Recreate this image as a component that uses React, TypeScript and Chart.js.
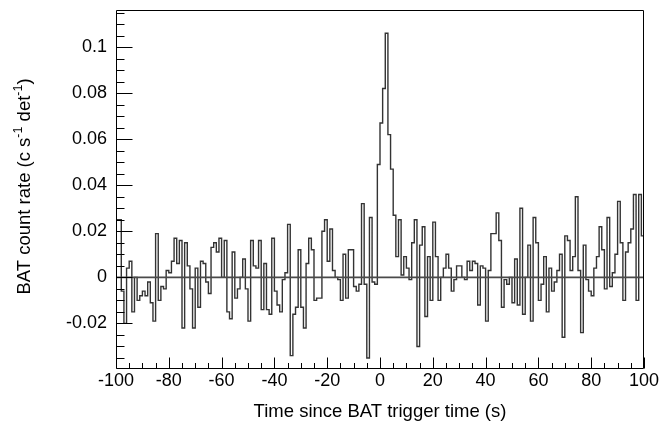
import React, { useEffect, useRef } from "react";
import { Chart, registerables } from "chart.js";

Chart.register(...registerables);

// Histogram: 1 s bins starting at -100 s
const binStart = -100;
const binWidth = 1;
const rates = [
  0.025, 0.025, -0.006, -0.02, 0.004, 0.007, -0.015, 0.0, -0.01, -0.008,
  -0.006, -0.008, -0.002, -0.011, -0.019, 0.019, -0.01, -0.004, -0.005, 0.003,
  0.002, 0.007, 0.017, 0.006, 0.016, -0.022, 0.015, 0.005, -0.005, -0.022,
  0.004, -0.013, 0.007, 0.006, -0.002, -0.007, 0.013, 0.015, 0.011, 0.017,
  0.0, 0.016, -0.015, -0.018, 0.011, -0.009, -0.005, 0.0, 0.008, -0.005,
  -0.019, 0.016, 0.005, 0.004, 0.016, -0.014, 0.006, -0.014, -0.016, 0.017,
  -0.006, -0.012, -0.015, -0.001, 0.002, 0.023, -0.034, -0.016, -0.013, 0.012,
  -0.013, -0.022, 0.006, 0.017, 0.012, -0.01, -0.009, -0.009, 0.02, 0.025,
  0.007, 0.021, 0.003, 0.0, -0.001, -0.01, 0.01, -0.009, 0.012, 0.012,
  -0.004, -0.006, -0.003, 0.032, -0.003, -0.035, 0.026, -0.002, -0.003, 0.049,
  0.067, 0.082, 0.106, 0.062, 0.047, 0.027, 0.009, 0.025, 0.001, 0.009,
  0.004, -0.001, 0.015, 0.025, -0.03, 0.014, 0.022, -0.017, 0.009, -0.01,
  0.024, 0.009, -0.01, 0.0, 0.004, 0.01, 0.004, -0.006, -0.001, 0.005,
  0.005, 0.0, -0.001, 0.007, 0.003, 0.007, 0.006, -0.012, 0.005, 0.004,
  -0.019, 0.003, 0.019, 0.019, 0.028, 0.016, -0.013, -0.001, -0.003, 0.0,
  -0.011, 0.008, -0.012, 0.03, -0.016, 0.0, 0.014, -0.019, 0.026, 0.015,
  -0.01, -0.003, 0.009, -0.015, 0.004, -0.006, -0.002, 0.003, 0.01, -0.026,
  0.018, 0.016, 0.003, 0.009, 0.035, 0.003, -0.024, 0.014, -0.001, -0.006,
  -0.008, 0.004, 0.009, 0.022, 0.012, -0.005, 0.026, -0.004, 0.002, 0.01,
  0.033, 0.015, -0.01, 0.011, 0.015, 0.021, 0.036, -0.01, 0.036, 0.018,
];

const xTickLabels = [-100, -80, -60, -40, -20, 0, 20, 40, 60, 80, 100];
const yTickLabels = [-0.02, 0, 0.02, 0.04, 0.06, 0.08, 0.1];
const xMinorStep = 5;
const xMajorEvery = 4;
const yMinorStep = 0.005;
const yMajorEvery = 4;

const xTitle = "Time since BAT trigger time (s)";
const yTitleParts: { text: string; sup?: boolean }[] = [
  { text: "BAT count rate (c s" },
  { text: "-1", sup: true },
  { text: " det" },
  { text: "-1", sup: true },
  { text: ")" },
];

const FONT = '"Liberation Sans", Arial, Helvetica, sans-serif';

const rootStyle = {
  id: "rootStyle",
  afterDatasetsDraw(chart: any) {
    const { ctx, chartArea: a, scales } = chart;
    const x = scales.x;
    const y = scales.y;
    ctx.save();
    ctx.strokeStyle = "#000";
    ctx.lineWidth = 1;
    const L = Math.round(a.left) + 0.5;
    const T = Math.round(a.top) + 0.5;
    const R = Math.round(a.right) - 0.5;
    const B = Math.round(a.bottom) - 0.5;
    ctx.beginPath();
    ctx.rect(L, T, R - L, B - T);
    ctx.stroke();
    // x inner ticks
    ctx.beginPath();
    const k0 = Math.ceil(x.min / xMinorStep - 1e-9);
    const k1 = Math.floor(x.max / xMinorStep + 1e-9);
    for (let k = k0; k <= k1; k++) {
      const px = Math.round(x.getPixelForValue(k * xMinorStep)) + 0.5;
      const len = k % xMajorEvery === 0 ? 11 : 5.5;
      ctx.moveTo(px, B);
      ctx.lineTo(px, B - len);
    }
    // y inner ticks
    const j0 = Math.ceil(y.min / yMinorStep - 1e-9);
    const j1 = Math.floor(y.max / yMinorStep + 1e-9);
    for (let j = j0; j <= j1; j++) {
      const py = Math.round(y.getPixelForValue(j * yMinorStep)) + 0.5;
      const len = j % yMajorEvery === 0 ? 16 : 8;
      ctx.moveTo(L, py);
      ctx.lineTo(L + len, py);
    }
    ctx.stroke();
    ctx.restore();
  },
  afterDraw(chart: any) {
    const { ctx, chartArea: a } = chart;
    ctx.save();
    ctx.fillStyle = "#000";
    // x title
    ctx.font = `18.5px ${FONT}`;
    ctx.textAlign = "center";
    ctx.textBaseline = "middle";
    ctx.fillText(xTitle, (a.left + a.right) / 2, 412);
    // y title with superscripts
    const mainFont = `18.5px ${FONT}`;
    const supFont = `12.5px ${FONT}`;
    let total = 0;
    for (const p of yTitleParts) {
      ctx.font = p.sup ? supFont : mainFont;
      total += ctx.measureText(p.text).width;
    }
    ctx.translate(23, (a.top + a.bottom) / 2 - 3);
    ctx.rotate(-Math.PI / 2);
    ctx.textAlign = "left";
    ctx.textBaseline = "alphabetic";
    let cx = -total / 2;
    for (const p of yTitleParts) {
      ctx.font = p.sup ? supFont : mainFont;
      ctx.fillText(p.text, cx, p.sup ? -1.5 : 6.5);
      cx += ctx.measureText(p.text).width;
    }
    ctx.restore();
  },
};

export default function App() {
  const ref = useRef<HTMLCanvasElement | null>(null);

  useEffect(() => {
    if (!ref.current) return;
    const hist = rates.map((v, i) => ({ x: binStart + i * binWidth, y: v }));
    hist.push({ x: binStart + rates.length * binWidth, y: rates[rates.length - 1] });
    const chart = new Chart(ref.current, {
      type: "line",
      data: {
        datasets: [
          {
            data: [
              { x: xTickLabels[0], y: 0 },
              { x: xTickLabels[xTickLabels.length - 1], y: 0 },
            ],
            borderColor: "#4a4a4a",
            borderWidth: 1.6,
            pointRadius: 0,
            order: 0,
          },
          {
            data: hist,
            stepped: "before",
            borderColor: "#333333",
            borderWidth: 1.4,
            pointRadius: 0,
            fill: false,
            order: 1,
          },
        ],
      },
      options: {
        animation: false,
        responsive: false,
        events: [],
        layout: { padding: { left: 0, top: 10, right: 15, bottom: 0 } },
        plugins: { legend: { display: false }, tooltip: { enabled: false }, title: { display: false } },
        scales: {
          x: {
            type: "linear",
            min: xTickLabels[0],
            max: xTickLabels[xTickLabels.length - 1],
            afterBuildTicks: (s: any) => {
              s.ticks = xTickLabels.map((v) => ({ value: v }));
            },
            afterFit: (s: any) => {
              s.height = 56;
              s.paddingLeft = 0;
              s.paddingRight = 0;
            },
            ticks: {
              autoSkip: false,
              maxRotation: 0,
              padding: 1,
              color: "#000",
              font: { family: FONT, size: 18 },
            },
            grid: { display: false, drawTicks: false },
            border: { display: false },
          },
          y: {
            type: "linear",
            min: -0.0398,
            max: 0.1161,
            afterBuildTicks: (s: any) => {
              s.ticks = yTickLabels.map((v) => ({ value: v }));
            },
            afterFit: (s: any) => {
              s.width = 116;
              s.paddingTop = 0;
              s.paddingBottom = 0;
            },
            ticks: {
              autoSkip: false,
              padding: 9,
              color: "#000",
              font: { family: FONT, size: 18 },
              callback: (v: any) => String(parseFloat(Number(v).toFixed(3))),
            },
            grid: { display: false, drawTicks: false },
            border: { display: false },
          },
        },
      },
      plugins: [rootStyle],
    });
    return () => chart.destroy();
  }, []);

  return (
    <div style={{ position: "absolute", left: 0, top: 0, width: 659, height: 425, background: "#fff" }}>
      <canvas ref={ref} width={659} height={425} style={{ display: "block" }} />
    </div>
  );
}
